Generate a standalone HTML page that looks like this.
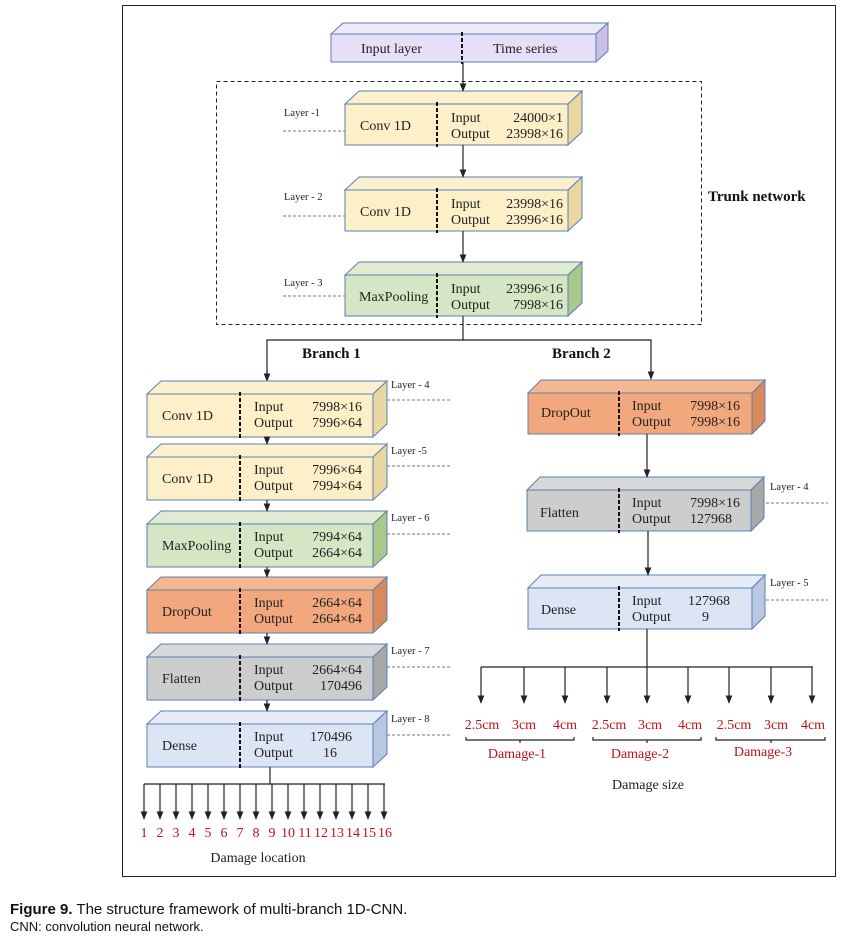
<!DOCTYPE html>
<html><head><meta charset="utf-8"><style>
html,body{margin:0;padding:0;background:#fff;width:852px;height:936px;overflow:hidden}
svg{display:block}
.t{font-family:"Liberation Serif",serif;font-size:14px;fill:#222}
.r{font-family:"Liberation Serif",serif;font-size:14px;fill:#c0121b}
.s{font-family:"Liberation Serif",serif;font-size:10.5px;fill:#222}
.b{font-family:"Liberation Serif",serif;font-size:15px;font-weight:bold;fill:#111}
.e{stroke:#5b7fb4;stroke-width:1}
</style></head><body>
<svg width="852" height="936" viewBox="0 0 852 936" xmlns="http://www.w3.org/2000/svg">
<defs>
<marker id="a" viewBox="0 0 10 10" refX="9" refY="5" markerWidth="7" markerHeight="7" orient="auto"><path d="M0,1 L10,5 L0,9 z" fill="#222"/></marker>
</defs>
<rect x="122.5" y="5.5" width="713" height="871" fill="none" stroke="#222" stroke-width="1"/>
<rect x="216.5" y="81.5" width="485" height="243" fill="none" stroke="#222" stroke-dasharray="4,3"/>

<!-- Input layer -->
<g transform="translate(331,34)">
<polygon class="e" points="0,0 12,-11 277,-11 265,0" fill="#efe8fb"/>
<polygon class="e" points="265,0 277,-11 277,17 265,28" fill="#cdbfe6"/>
<rect class="e" x="0" y="0" width="265" height="28" fill="#e7def8"/>
<line x1="131" y1="-2" x2="131" y2="30" stroke="#111" stroke-width="2" stroke-dasharray="4,2"/>
<text class="t" x="30" y="19">Input layer</text><text class="t" x="162" y="19">Time series</text>
</g>

<!-- trunk boxes -->
<g transform="translate(345,104)">
<polygon class="e" points="0,0 14,-13 237,-13 223,0" fill="#fcf0cf"/>
<polygon class="e" points="223,0 237,-13 237,28 223,41" fill="#e9d6a0"/>
<rect class="e" x="0" y="0" width="223" height="41" fill="#fdefc8"/>
<line x1="92" y1="-2" x2="92" y2="43" stroke="#111" stroke-width="2" stroke-dasharray="4,2"/>
<text class="t" x="15" y="26">Conv 1D</text><text class="t" x="106" y="18">Input</text><text class="t" x="106" y="34">Output</text>
<text class="t" x="218" y="18" text-anchor="end">24000×1</text><text class="t" x="218" y="34" text-anchor="end">23998×16</text>
</g>
<g transform="translate(345,190)">
<polygon class="e" points="0,0 14,-13 237,-13 223,0" fill="#fcf0cf"/>
<polygon class="e" points="223,0 237,-13 237,28 223,41" fill="#e9d6a0"/>
<rect class="e" x="0" y="0" width="223" height="41" fill="#fdefc8"/>
<line x1="92" y1="-2" x2="92" y2="43" stroke="#111" stroke-width="2" stroke-dasharray="4,2"/>
<text class="t" x="15" y="26">Conv 1D</text><text class="t" x="106" y="18">Input</text><text class="t" x="106" y="34">Output</text>
<text class="t" x="218" y="18" text-anchor="end">23998×16</text><text class="t" x="218" y="34" text-anchor="end">23996×16</text>
</g>
<g transform="translate(345,275)">
<polygon class="e" points="0,0 14,-13 237,-13 223,0" fill="#dfecd2"/>
<polygon class="e" points="223,0 237,-13 237,28 223,41" fill="#a8c88c"/>
<rect class="e" x="0" y="0" width="223" height="41" fill="#d5e6c4"/>
<line x1="92" y1="-2" x2="92" y2="43" stroke="#111" stroke-width="2" stroke-dasharray="4,2"/>
<text class="t" x="14" y="26">MaxPooling</text><text class="t" x="106" y="18">Input</text><text class="t" x="106" y="34">Output</text>
<text class="t" x="218" y="18" text-anchor="end">23996×16</text><text class="t" x="218" y="34" text-anchor="end">7998×16</text>
</g>

<!-- trunk arrows -->
<g stroke="#222" stroke-width="1.2" fill="none">
<line x1="463" y1="62" x2="463" y2="91" marker-end="url(#a)"/>
<line x1="463" y1="145" x2="463" y2="177" marker-end="url(#a)"/>
<line x1="463" y1="231" x2="463" y2="262" marker-end="url(#a)"/>
<polyline points="463,316 463,340"/>
<polyline points="267,380 267,340 651,340 651,378" />
<line x1="267" y1="370" x2="267" y2="381" marker-end="url(#a)"/>
<line x1="651" y1="370" x2="651" y2="379" marker-end="url(#a)"/>
</g>

<!-- layer labels trunk -->
<text class="s" x="284" y="116">Layer -1</text>
<text class="s" x="284" y="200">Layer - 2</text>
<text class="s" x="284" y="286">Layer - 3</text>
<g stroke="#777" stroke-dasharray="3,2"><line x1="283" y1="131" x2="345" y2="131"/><line x1="283" y1="216" x2="345" y2="216"/><line x1="283" y1="296" x2="345" y2="296"/>
<line x1="387" y1="400" x2="450" y2="400"/><line x1="387" y1="466" x2="450" y2="466"/><line x1="387" y1="534" x2="450" y2="534"/><line x1="387" y1="667" x2="450" y2="667"/><line x1="387" y1="735" x2="450" y2="735"/>
<line x1="766" y1="503" x2="828" y2="503"/><line x1="766" y1="600" x2="828" y2="600"/></g>
<text class="b" x="708" y="201">Trunk network</text>
<text class="b" x="302" y="358">Branch 1</text>
<text class="b" x="552" y="358">Branch 2</text>

<!-- left branch -->
<g transform="translate(147,394)">
<polygon class="e" points="0,0 14,-13 240,-13 226,0" fill="#fcf0cf"/>
<polygon class="e" points="226,0 240,-13 240,30 226,43" fill="#e9d6a0"/>
<rect class="e" x="0" y="0" width="226" height="43" fill="#fdefc8"/>
<line x1="93" y1="-2" x2="93" y2="45" stroke="#111" stroke-width="2" stroke-dasharray="4,2"/>
<text class="t" x="15" y="26">Conv 1D</text><text class="t" x="107" y="17">Input</text><text class="t" x="107" y="33">Output</text>
<text class="t" x="215" y="17" text-anchor="end">7998×16</text><text class="t" x="215" y="33" text-anchor="end">7996×64</text>
</g>
<g transform="translate(147,457)">
<polygon class="e" points="0,0 14,-13 240,-13 226,0" fill="#fcf0cf"/>
<polygon class="e" points="226,0 240,-13 240,30 226,43" fill="#e9d6a0"/>
<rect class="e" x="0" y="0" width="226" height="43" fill="#fdefc8"/>
<line x1="93" y1="-2" x2="93" y2="45" stroke="#111" stroke-width="2" stroke-dasharray="4,2"/>
<text class="t" x="15" y="26">Conv 1D</text><text class="t" x="107" y="17">Input</text><text class="t" x="107" y="33">Output</text>
<text class="t" x="215" y="17" text-anchor="end">7996×64</text><text class="t" x="215" y="33" text-anchor="end">7994×64</text>
</g>
<g transform="translate(147,524)">
<polygon class="e" points="0,0 14,-13 240,-13 226,0" fill="#dfecd2"/>
<polygon class="e" points="226,0 240,-13 240,30 226,43" fill="#a8c88c"/>
<rect class="e" x="0" y="0" width="226" height="43" fill="#d5e6c4"/>
<line x1="93" y1="-2" x2="93" y2="45" stroke="#111" stroke-width="2" stroke-dasharray="4,2"/>
<text class="t" x="15" y="26">MaxPooling</text><text class="t" x="107" y="17">Input</text><text class="t" x="107" y="33">Output</text>
<text class="t" x="215" y="17" text-anchor="end">7994×64</text><text class="t" x="215" y="33" text-anchor="end">2664×64</text>
</g>
<g transform="translate(147,590)">
<polygon class="e" points="0,0 14,-13 240,-13 226,0" fill="#f5b790"/>
<polygon class="e" points="226,0 240,-13 240,30 226,43" fill="#d98a5a"/>
<rect class="e" x="0" y="0" width="226" height="43" fill="#f2a87c"/>
<line x1="93" y1="-2" x2="93" y2="45" stroke="#111" stroke-width="2" stroke-dasharray="4,2"/>
<text class="t" x="15" y="26">DropOut</text><text class="t" x="107" y="17">Input</text><text class="t" x="107" y="33">Output</text>
<text class="t" x="215" y="17" text-anchor="end">2664×64</text><text class="t" x="215" y="33" text-anchor="end">2664×64</text>
</g>
<g transform="translate(147,657)">
<polygon class="e" points="0,0 14,-13 240,-13 226,0" fill="#d8d8d8"/>
<polygon class="e" points="226,0 240,-13 240,30 226,43" fill="#a8a8a8"/>
<rect class="e" x="0" y="0" width="226" height="43" fill="#cdcdcd"/>
<line x1="93" y1="-2" x2="93" y2="45" stroke="#111" stroke-width="2" stroke-dasharray="4,2"/>
<text class="t" x="15" y="26">Flatten</text><text class="t" x="107" y="17">Input</text><text class="t" x="107" y="33">Output</text>
<text class="t" x="215" y="17" text-anchor="end">2664×64</text><text class="t" x="215" y="33" text-anchor="end">170496</text>
</g>
<g transform="translate(147,724)">
<polygon class="e" points="0,0 14,-13 240,-13 226,0" fill="#e5ecf7"/>
<polygon class="e" points="226,0 240,-13 240,30 226,43" fill="#b8c8e0"/>
<rect class="e" x="0" y="0" width="226" height="43" fill="#dce5f3"/>
<line x1="93" y1="-2" x2="93" y2="45" stroke="#111" stroke-width="2" stroke-dasharray="4,2"/>
<text class="t" x="15" y="26">Dense</text><text class="t" x="107" y="17">Input</text><text class="t" x="107" y="33">Output</text>
<text class="t" x="205" y="17" text-anchor="end">170496</text><text class="t" x="190" y="33" text-anchor="end">16</text>
</g>
<text class="s" x="391" y="388">Layer - 4</text>
<text class="s" x="391" y="454">Layer -5</text>
<text class="s" x="391" y="521">Layer - 6</text>
<text class="s" x="391" y="654">Layer - 7</text>
<text class="s" x="391" y="722">Layer - 8</text>

<!-- right branch -->
<g transform="translate(528,393)">
<polygon class="e" points="0,0 13,-13 237,-13 224,0" fill="#f5b790"/>
<polygon class="e" points="224,0 237,-13 237,28 224,41" fill="#d98a5a"/>
<rect class="e" x="0" y="0" width="224" height="41" fill="#f2a87c"/>
<line x1="91" y1="-2" x2="91" y2="43" stroke="#111" stroke-width="2" stroke-dasharray="4,2"/>
<text class="t" x="13" y="24">DropOut</text><text class="t" x="104" y="17">Input</text><text class="t" x="104" y="33">Output</text>
<text class="t" x="212" y="17" text-anchor="end">7998×16</text><text class="t" x="212" y="33" text-anchor="end">7998×16</text>
</g>
<g transform="translate(527,490)">
<polygon class="e" points="0,0 13,-13 237,-13 224,0" fill="#d8d8d8"/>
<polygon class="e" points="224,0 237,-13 237,28 224,41" fill="#a8a8a8"/>
<rect class="e" x="0" y="0" width="224" height="41" fill="#cdcdcd"/>
<line x1="92" y1="-2" x2="92" y2="43" stroke="#111" stroke-width="2" stroke-dasharray="4,2"/>
<text class="t" x="13" y="27">Flatten</text><text class="t" x="105" y="17">Input</text><text class="t" x="105" y="33">Output</text>
<text class="t" x="213" y="17" text-anchor="end">7998×16</text><text class="t" x="205" y="33" text-anchor="end">127968</text>
</g>
<g transform="translate(528,588)">
<polygon class="e" points="0,0 13,-13 237,-13 224,0" fill="#e5ecf7"/>
<polygon class="e" points="224,0 237,-13 237,28 224,41" fill="#b8c8e0"/>
<rect class="e" x="0" y="0" width="224" height="41" fill="#dce5f3"/>
<line x1="91" y1="-2" x2="91" y2="43" stroke="#111" stroke-width="2" stroke-dasharray="4,2"/>
<text class="t" x="13" y="26">Dense</text><text class="t" x="104" y="17">Input</text><text class="t" x="104" y="33">Output</text>
<text class="t" x="202" y="17" text-anchor="end">127968</text><text class="t" x="181" y="33" text-anchor="end">9</text>
</g>
<text class="s" x="770" y="490">Layer - 4</text>
<text class="s" x="770" y="586">Layer - 5</text>

<g stroke="#222" stroke-width="1.2" fill="none">
<line x1="267" y1="437" x2="267" y2="444" marker-end="url(#a)"/>
<line x1="267" y1="500" x2="267" y2="511" marker-end="url(#a)"/>
<line x1="267" y1="567" x2="267" y2="577" marker-end="url(#a)"/>
<line x1="267" y1="633" x2="267" y2="644" marker-end="url(#a)"/>
<line x1="267" y1="700" x2="267" y2="711" marker-end="url(#a)"/>
<line x1="647" y1="434" x2="647" y2="477" marker-end="url(#a)"/>
<line x1="648" y1="531" x2="648" y2="575" marker-end="url(#a)"/>
<polyline points="270,767 270,784"/>
<line x1="144" y1="784" x2="385" y2="784"/>
<line x1="144" y1="784" x2="144" y2="819" marker-end="url(#a)"/>
<line x1="160" y1="784" x2="160" y2="819" marker-end="url(#a)"/>
<line x1="176" y1="784" x2="176" y2="819" marker-end="url(#a)"/>
<line x1="192" y1="784" x2="192" y2="819" marker-end="url(#a)"/>
<line x1="208" y1="784" x2="208" y2="819" marker-end="url(#a)"/>
<line x1="224" y1="784" x2="224" y2="819" marker-end="url(#a)"/>
<line x1="240" y1="784" x2="240" y2="819" marker-end="url(#a)"/>
<line x1="256" y1="784" x2="256" y2="819" marker-end="url(#a)"/>
<line x1="272" y1="784" x2="272" y2="819" marker-end="url(#a)"/>
<line x1="288" y1="784" x2="288" y2="819" marker-end="url(#a)"/>
<line x1="304" y1="784" x2="304" y2="819" marker-end="url(#a)"/>
<line x1="320" y1="784" x2="320" y2="819" marker-end="url(#a)"/>
<line x1="336" y1="784" x2="336" y2="819" marker-end="url(#a)"/>
<line x1="352" y1="784" x2="352" y2="819" marker-end="url(#a)"/>
<line x1="368" y1="784" x2="368" y2="819" marker-end="url(#a)"/>
<line x1="384" y1="784" x2="384" y2="819" marker-end="url(#a)"/>
<polyline points="647,629 647,667"/>
<line x1="481" y1="667" x2="813" y2="667"/>
<line x1="481" y1="667" x2="481" y2="703" marker-end="url(#a)"/>
<line x1="524" y1="667" x2="524" y2="703" marker-end="url(#a)"/>
<line x1="565" y1="667" x2="565" y2="703" marker-end="url(#a)"/>
<line x1="607" y1="667" x2="607" y2="703" marker-end="url(#a)"/>
<line x1="647" y1="667" x2="647" y2="703" marker-end="url(#a)"/>
<line x1="688" y1="667" x2="688" y2="703" marker-end="url(#a)"/>
<line x1="729" y1="667" x2="729" y2="703" marker-end="url(#a)"/>
<line x1="771" y1="667" x2="771" y2="703" marker-end="url(#a)"/>
<line x1="812" y1="667" x2="812" y2="703" marker-end="url(#a)"/>
<path d="M466,737 v3 H574 v-3 M520,740 v3"/>
<path d="M593,737 v3 H701 v-3 M647,740 v3"/>
<path d="M716,737 v3 H825 v-3 M771,740 v3"/>
</g>
<g class="r" text-anchor="middle">
<text class="r" x="144" y="837">1</text><text class="r" x="160" y="837">2</text><text class="r" x="176" y="837">3</text><text class="r" x="192" y="837">4</text><text class="r" x="208" y="837">5</text><text class="r" x="224" y="837">6</text><text class="r" x="240" y="837">7</text><text class="r" x="256" y="837">8</text><text class="r" x="272" y="837">9</text><text class="r" x="288" y="837">10</text><text class="r" x="305" y="837">11</text><text class="r" x="321" y="837">12</text><text class="r" x="337" y="837">13</text><text class="r" x="353" y="837">14</text><text class="r" x="369" y="837">15</text><text class="r" x="385" y="837">16</text>
<text class="r" x="482" y="729">2.5cm</text><text class="r" x="524" y="729">3cm</text><text class="r" x="565" y="729">4cm</text>
<text class="r" x="609" y="729">2.5cm</text><text class="r" x="650" y="729">3cm</text><text class="r" x="690" y="729">4cm</text>
<text class="r" x="734" y="729">2.5cm</text><text class="r" x="776" y="729">3cm</text><text class="r" x="813" y="729">4cm</text>
<text class="r" x="517" y="758">Damage-1</text><text class="r" x="640" y="758">Damage-2</text><text class="r" x="763" y="756">Damage-3</text>
</g>
<text class="t" x="258" y="862" text-anchor="middle">Damage location</text>
<text class="t" x="648" y="789" text-anchor="middle">Damage size</text>

<text x="10" y="914" style="font-family:'Liberation Sans',sans-serif;font-size:15px;fill:#111"><tspan font-weight="bold">Figure 9.</tspan>  The structure framework of multi-branch 1D-CNN.</text>
<text x="10" y="931" style="font-family:'Liberation Sans',sans-serif;font-size:13px;fill:#111">CNN: convolution neural network.</text>
</svg>
</body></html>
